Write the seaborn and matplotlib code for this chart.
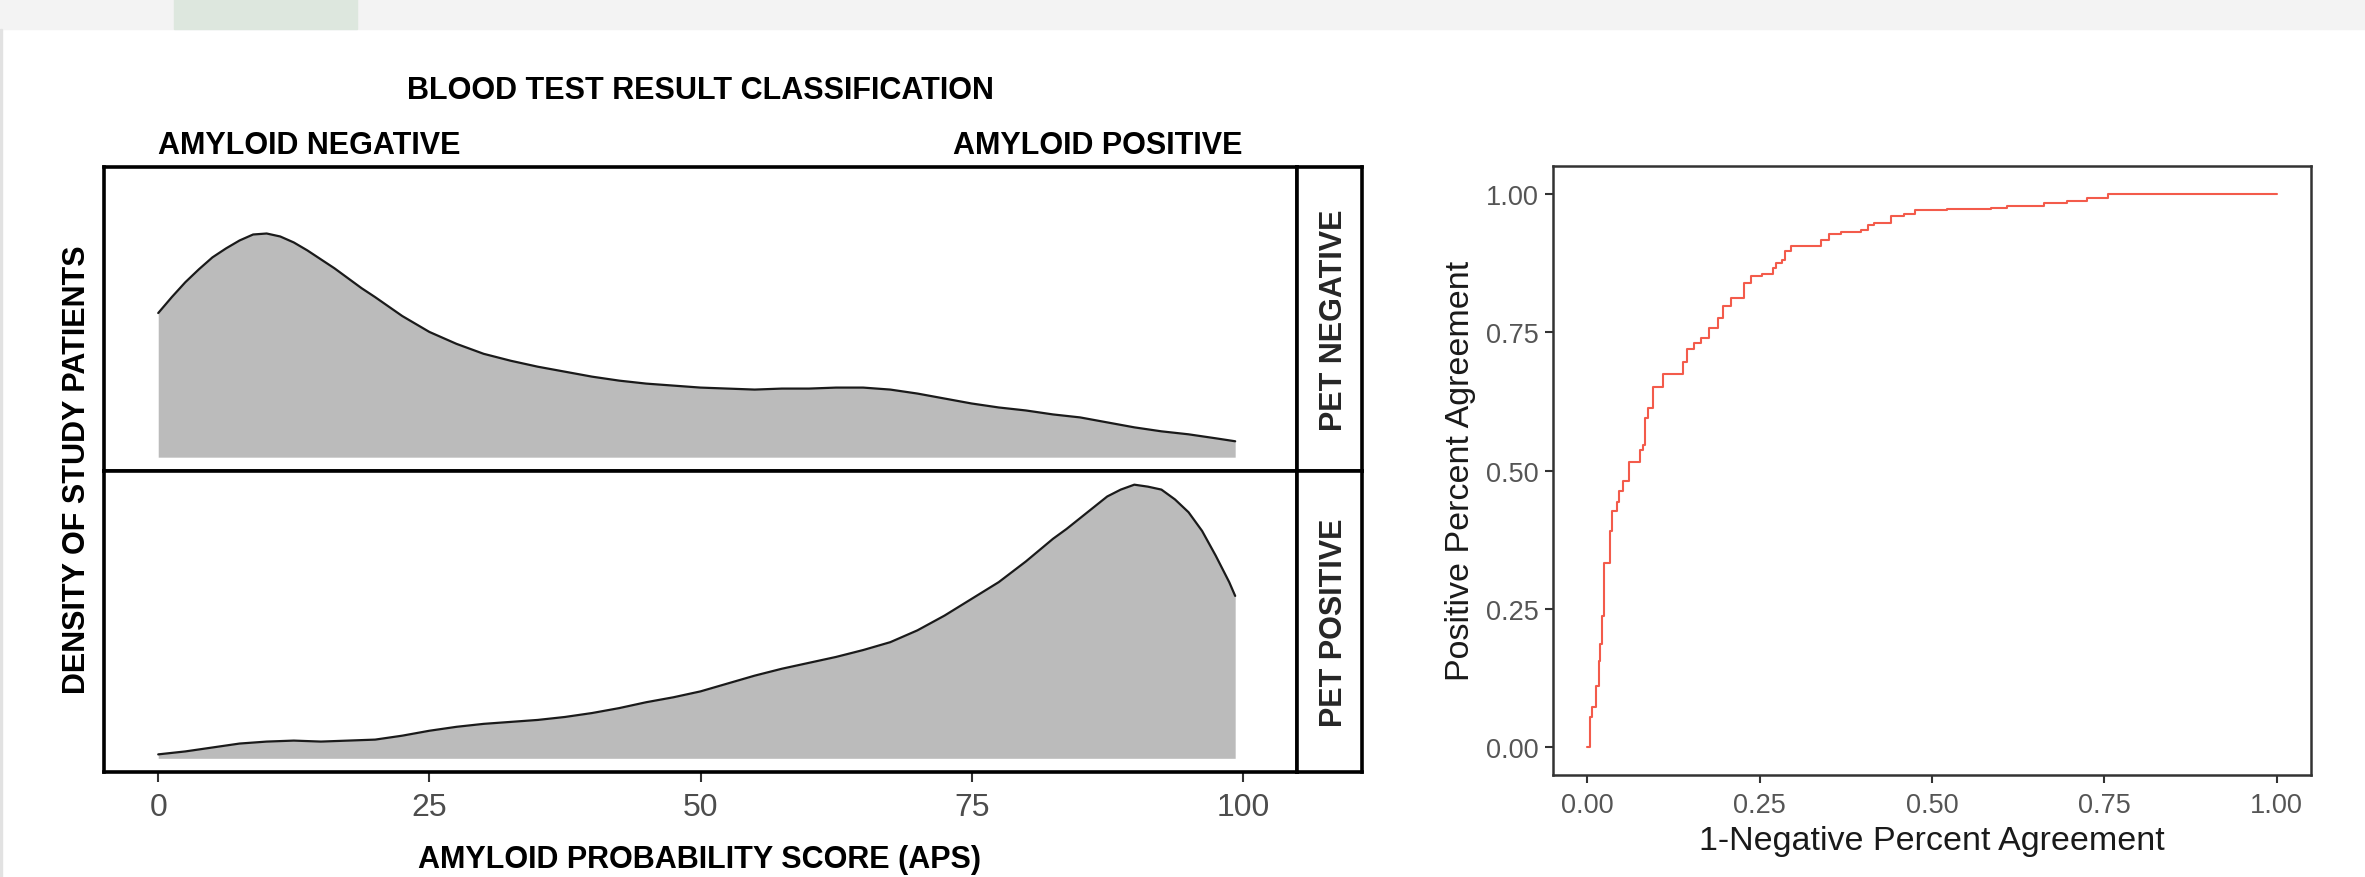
import matplotlib
matplotlib.use('Agg')
import matplotlib.pyplot as plt
from matplotlib.patches import Rectangle
import seaborn as sns

# APS values the PET negative density was read at
neg_aps = [0, 1.25, 2.5, 3.75, 5, 6.25, 7.5, 8.75, 10, 11.25, 12.5, 13.75, 15, 16.25, 17.5,
           18.75, 20, 22.5, 25, 27.5, 30, 32.5, 35, 37.5, 40, 42.5, 45, 47.5, 50, 52.5,
           55, 57.5, 60, 62.5, 65, 67.5, 70, 72.5, 75, 77.5, 80, 82.5, 85, 87.5, 90,
           92.5, 95, 97.5, 99.3]
pet_negative_density = [0.0145, 0.0161, 0.0176, 0.0189, 0.0201, 0.0210, 0.0218, 0.0224,
                        0.0225, 0.0222, 0.0216, 0.0208, 0.0199, 0.0190, 0.0180, 0.0170,
                        0.0161, 0.0142, 0.0126, 0.0114, 0.0104, 0.0097, 0.0091, 0.0086,
                        0.0081, 0.0077, 0.0074, 0.0072, 0.0070, 0.0069, 0.0068, 0.0069,
                        0.0069, 0.0070, 0.0070, 0.0068, 0.0064, 0.0059, 0.0054, 0.0050,
                        0.0047, 0.0043, 0.0040, 0.0035, 0.0030, 0.0026, 0.0023, 0.0019,
                        0.0016]

# APS values the PET positive density was read at
pos_aps = [0, 2.5, 5, 7.5, 10, 12.5, 15, 17.5, 20, 22.5, 25, 27.5, 30, 32.5, 35, 37.5,
           40, 42.5, 45, 47.5, 50, 52.5, 55, 57.5, 60, 62.5, 65, 67.5, 70, 72.5, 75,
           77.5, 80, 82.5, 83.75, 85, 86.25, 87.5, 88.75, 90, 91.25, 92.5, 93.75, 95,
           96.25, 97.5, 98.75, 99.3]
pet_positive_density = [0.0004, 0.0007, 0.0011, 0.0015, 0.0017, 0.0018, 0.0017, 0.0018,
                        0.0019, 0.0023, 0.0028, 0.0032, 0.0035, 0.0037, 0.0039, 0.0042,
                        0.0046, 0.0051, 0.0057, 0.0062, 0.0068, 0.0076, 0.0084, 0.0091,
                        0.0097, 0.0103, 0.0110, 0.0118, 0.0130, 0.0145, 0.0162, 0.0179,
                        0.0200, 0.0223, 0.0233, 0.0244, 0.0255, 0.0266, 0.0273, 0.0278,
                        0.0276, 0.0273, 0.0263, 0.0250, 0.0231, 0.0206, 0.0179, 0.0165]

facet_labels = ['PET NEGATIVE', 'PET POSITIVE']
aps_ticks = [0, 25, 50, 75, 100]

# ROC curve (1 - NPA vs PPA)
roc_fpr = [0.000, 0.003, 0.007, 0.012, 0.017, 0.018, 0.021, 0.024, 0.032, 0.036, 0.043,
           0.046, 0.052, 0.060, 0.076, 0.081, 0.083, 0.088, 0.095, 0.109, 0.138, 0.145,
           0.155, 0.165, 0.176, 0.189, 0.197, 0.208, 0.227, 0.237, 0.254, 0.269, 0.274,
           0.283, 0.286, 0.295, 0.339, 0.351, 0.368, 0.397, 0.407, 0.416, 0.440, 0.459,
           0.476, 0.522, 0.585, 0.609, 0.662, 0.696, 0.725, 0.755, 1.000]
roc_tpr = [0.000, 0.054, 0.072, 0.111, 0.156, 0.186, 0.237, 0.333, 0.390, 0.426, 0.444,
           0.463, 0.481, 0.516, 0.537, 0.546, 0.594, 0.612, 0.651, 0.675, 0.696, 0.719,
           0.730, 0.740, 0.758, 0.776, 0.797, 0.812, 0.839, 0.851, 0.855, 0.866, 0.875,
           0.881, 0.896, 0.906, 0.917, 0.928, 0.930, 0.935, 0.943, 0.947, 0.959, 0.963,
           0.970, 0.972, 0.975, 0.978, 0.983, 0.987, 0.992, 1.000, 1.000]
roc_ticks = [0, 0.25, 0.5, 0.75, 1.0]

sns.set_theme(style='white')
plt.rcParams['font.family'] = ['Liberation Sans', 'DejaVu Sans']

W, H = 2365, 878
fig = plt.figure(figsize=(W / 100, H / 100), dpi=100)


def box(x0, y0, x1, y1):
    # pixel box (top-left origin) -> figure fraction rect
    return [x0 / W, 1 - y1 / H, (x1 - x0) / W, (y1 - y0) / H]


def fx(px):
    return px / W


def fy(py):
    return 1 - py / H


# page chrome: grey band on top, faint left edge
fig.patches.append(Rectangle((0, fy(30)), 1, 30 / H, transform=fig.transFigure,
                             color='#F3F3F3', zorder=0))
fig.patches.append(Rectangle((fx(174), fy(30)), (357 - 174) / W, 30 / H,
                             transform=fig.transFigure, color='#DDE7DE', zorder=0))
fig.patches.append(Rectangle((0, 0), 2 / W, fy(30), transform=fig.transFigure,
                             color='#E2E2E2', zorder=0))

# density facets
ax_top = fig.add_axes(box(104, 168, 1297, 472))
ax_bot = fig.add_axes(box(104, 472, 1297, 773), sharex=ax_top, sharey=ax_top)
ymax = max(max(pet_negative_density), max(pet_positive_density))

for ax, xs, dens in [(ax_top, neg_aps, pet_negative_density),
                     (ax_bot, pos_aps, pet_positive_density)]:
    ax.fill_between(xs, dens, 0, color='#BBBBBB', linewidth=0, zorder=1)
    sns.lineplot(x=xs, y=dens, ax=ax, color='#1A1A1A', linewidth=1.6, zorder=2)
    ax.set_xlim(-5, 105)
    ax.set_ylim(-0.05 * ymax, 1.05 * ymax)
    ax.set_yticks([])
    ax.set_ylabel('')
    for sp in ax.spines.values():
        sp.set_color('black')
        sp.set_linewidth(2.6)

ax_top.tick_params(bottom=False, labelbottom=False)
ax_bot.set_xticks(aps_ticks)
ax_bot.set_xticklabels([str(t) for t in aps_ticks])
ax_bot.tick_params(axis='x', bottom=True, length=7.5, width=1.5, color='#333333',
                   labelsize=23, labelcolor='#4D4D4D', pad=7)

# facet strips on the right
for (y0, y1), lab in zip([(168, 472), (472, 773)], facet_labels):
    sax = fig.add_axes(box(1297, y0, 1362, y1))
    sax.set_xticks([])
    sax.set_yticks([])
    for sp in sax.spines.values():
        sp.set_color('black')
        sp.set_linewidth(2.6)
    fig.text(fx(1342), fy((y0 + y1) / 2), lab, rotation=90, rotation_mode='anchor',
             ha='center', va='baseline', fontsize=22, fontweight='bold')

bold = dict(fontsize=22, fontweight='bold', color='black')
xt = ax_top.get_xaxis_transform()
ax_top.text(50, 1.227, 'BLOOD TEST RESULT CLASSIFICATION', transform=xt,
            ha='center', va='baseline', **bold)
ax_top.text(0, 1.046, 'AMYLOID NEGATIVE', transform=xt, ha='left', va='baseline', **bold)
ax_top.text(100, 1.046, 'AMYLOID POSITIVE', transform=xt, ha='right', va='baseline', **bold)
fig.text(fx(700), fy(868), 'AMYLOID PROBABILITY SCORE (APS)', ha='center',
         va='baseline', **bold)
fig.text(fx(85), fy(470), 'DENSITY OF STUDY PATIENTS', rotation=90,
         rotation_mode='anchor', ha='center', va='baseline', **bold)

# ROC panel
ax_roc = fig.add_axes(box(1553, 167, 2311, 776))
sns.lineplot(x=roc_fpr, y=roc_tpr, ax=ax_roc, color='#F35B4B', linewidth=1.5,
             drawstyle='steps-post', estimator=None, sort=False)
ax_roc.set_xlim(-0.05, 1.05)
ax_roc.set_ylim(-0.05, 1.05)
ax_roc.set_xticks(roc_ticks)
ax_roc.set_yticks(roc_ticks)
ax_roc.set_xticklabels([f'{t:.2f}' for t in roc_ticks])
ax_roc.set_yticklabels([f'{t:.2f}' for t in roc_ticks])
ax_roc.tick_params(axis='both', bottom=True, left=True, length=6, width=1.5,
                   color='#333333', labelsize=19.5, labelcolor='#555555')
ax_roc.tick_params(axis='x', pad=6)
ax_roc.tick_params(axis='y', pad=4)
for sp in ax_roc.spines.values():
    sp.set_color('#333333')
    sp.set_linewidth(1.8)
ax_roc.set_xlabel('')
ax_roc.set_ylabel('')
fig.text(fx(1932), fy(850), '1-Negative Percent Agreement', ha='center',
         va='baseline', fontsize=24.5, color='#1A1A1A')
fig.text(fx(1469), fy(471), 'Positive Percent Agreement', rotation=90,
         rotation_mode='anchor', ha='center', va='baseline', fontsize=24.5,
         color='#1A1A1A')

fig.savefig('out.png', dpi=100)
